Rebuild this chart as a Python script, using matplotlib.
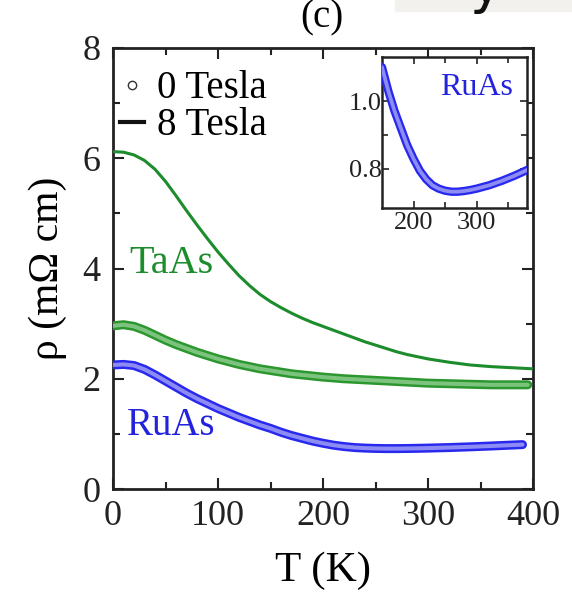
import matplotlib
matplotlib.use("Agg")
import matplotlib.pyplot as plt
import matplotlib.patheffects as pe
from matplotlib.lines import Line2D
from matplotlib.patches import Rectangle
import numpy as np

plt.rcParams['font.family'] = ['Liberation Serif', 'DejaVu Serif']

# TaAs, 8 Tesla (solid line)
T_taas_8T = [0, 10, 20, 30, 40, 50, 60, 70, 80, 90, 100, 110, 120, 130, 140, 150,
             160, 170, 180, 190, 200, 210, 220, 230, 240, 250, 260, 270, 280, 290,
             300, 320, 340, 360, 380, 400]
rho_taas_8T = [6.12, 6.11, 6.06, 5.96, 5.80, 5.58, 5.32, 5.05, 4.79, 4.54, 4.30, 4.08,
               3.87, 3.69, 3.53, 3.40, 3.29, 3.19, 3.10, 3.02, 2.95, 2.88, 2.81, 2.74,
               2.67, 2.61, 2.55, 2.49, 2.44, 2.40, 2.36, 2.30, 2.25, 2.22, 2.20, 2.18]

# TaAs, 0 Tesla (open circles)
T_taas_0T = [0, 10, 20, 30, 40, 50, 60, 70, 80, 90, 100, 110, 120, 130, 140, 150,
             160, 170, 180, 190, 200, 220, 240, 260, 280, 300, 320, 340, 360, 380, 395]
rho_taas_0T = [2.96, 2.98, 2.95, 2.88, 2.79, 2.70, 2.62, 2.55, 2.48, 2.42, 2.36, 2.31,
               2.26, 2.22, 2.18, 2.15, 2.12, 2.09, 2.07, 2.05, 2.03, 2.00, 1.98, 1.96,
               1.94, 1.92, 1.91, 1.90, 1.89, 1.89, 1.89]

# RuAs, 0 Tesla (open circles)
T_ruas_0T = [0, 10, 20, 30, 40, 50, 60, 70, 80, 90, 100, 110, 120, 130, 140, 150,
             160, 170, 180, 190, 200, 210, 220, 230, 240, 250, 260, 270, 280, 290,
             300, 320, 340, 360, 380, 390]
rho_ruas_0T = [2.25, 2.26, 2.24, 2.17, 2.07, 1.96, 1.85, 1.74, 1.64, 1.55, 1.46, 1.38,
               1.30, 1.23, 1.16, 1.10, 1.03, 0.97, 0.92, 0.87, 0.83, 0.795, 0.77, 0.752,
               0.742, 0.736, 0.733, 0.733, 0.735, 0.738, 0.742, 0.752, 0.765, 0.78,
               0.797, 0.805]

x_ticks = [0, 100, 200, 300, 400]
y_ticks = [0, 2, 4, 6, 8]
inset_x_ticks = [200, 300]
inset_y_ticks = [0.8, 1.0]

GREEN = '#1c8c2c'
GREEN_LIGHT = '#7cc47e'
BLUE = '#2828ee'
BLUE_LIGHT = '#8c8cf4'
BLUE_TEXT = '#2323dd'


def circle_band(axis, x, y, color, inner, width=6.0):
    """Dense open-circle trace drawn as an outlined band."""
    line, = axis.plot(x, y, color=inner, lw=width * 0.45, solid_capstyle='round',
                      zorder=3)
    line.set_path_effects([pe.Stroke(linewidth=width, foreground=color),
                           pe.Normal()])
    return line


fig = plt.figure(figsize=(5.72, 5.95), dpi=100)

# faint strip and clipped letter along the top edge
fig.patches.append(Rectangle((395 / 572, 1 - 11 / 595), 1, 11 / 595,
                             transform=fig.transFigure, color='#f3f1ee', zorder=0))
fig.text(486 / 572, 1 - 2 / 595, 'y', fontsize=40, family='DejaVu Sans',
         ha='center', va='baseline', color='#111111')

ax = fig.add_axes([113 / 572, 1 - 489 / 595, 420 / 572, 441 / 595])
ax.set_xlim(0, 400)
ax.set_ylim(0, 8)
ax.set_xticks(x_ticks)
ax.set_yticks(y_ticks)
ax.set_xticks(np.arange(50, 400, 100), minor=True)
ax.set_yticks(np.arange(1, 8, 2), minor=True)
ax.tick_params(which='both', direction='in', top=True, right=True, width=1.5,
               labelsize=26, colors='#222222')
ax.tick_params(which='major', length=8)
ax.tick_params(which='minor', length=5)
ax.tick_params(axis='x', pad=8)
ax.tick_params(axis='y', pad=9)
for s in ax.spines.values():
    s.set_linewidth(2.0)
    s.set_color('#222222')

ax.plot(T_taas_8T, rho_taas_8T, color=GREEN, lw=2.2, zorder=3)
circle_band(ax, T_taas_0T, rho_taas_0T, '#2c962f', GREEN_LIGHT, width=6.5)
circle_band(ax, T_ruas_0T, rho_ruas_0T, BLUE, BLUE_LIGHT, width=6.5)

ax.text(0.04, 0.512, 'TaAs', transform=ax.transAxes, color=GREEN, fontsize=29,
        ha='left', va='center')
ax.text(0.033, 0.145, 'RuAs', transform=ax.transAxes, color=BLUE_TEXT, fontsize=28,
        ha='left', va='center')

ax.set_xlabel('T (K)', fontsize=31, labelpad=13)
ax.set_ylabel('ρ (mΩ cm)', fontsize=30, labelpad=11)
fig.text(322 / 572, 1 - 18 / 595, '(c)', fontsize=28, ha='center', va='center')

handles = [Line2D([], [], marker='o', ms=6, mfc='none', mec='#333333', mew=1.0,
                  ls='none'),
           Line2D([], [], color='#111111', lw=3)]
ax.legend(handles, ['0 Tesla', '8 Tesla'], loc='upper left', frameon=False,
          fontsize=28, handlelength=0.62, handletextpad=0.32, labelspacing=0.0,
          borderaxespad=0.0, bbox_to_anchor=(-0.02, 0.985))

# inset: RuAs minimum
inset = fig.add_axes([382 / 572, 1 - 208 / 595, 145 / 572, 151 / 595])
inset.set_xlim(150, 380)
inset.set_ylim(0.685, 1.13)
inset.set_xticks(inset_x_ticks)
inset.set_yticks(inset_y_ticks)
inset.set_xticks([250, 350], minor=True)
inset.set_yticks([0.9], minor=True)
inset.tick_params(which='both', direction='in', top=True, right=True, width=1.2,
                  labelsize=19, colors='#222222')
inset.tick_params(axis='x', pad=3)
inset.tick_params(axis='y', pad=0)
inset.tick_params(which='major', length=5)
inset.tick_params(which='minor', length=4)
for s in inset.spines.values():
    s.set_linewidth(1.8)
    s.set_color('#222222')
T_in = [t for t in T_ruas_0T if t >= 150]
rho_in = [r for t, r in zip(T_ruas_0T, rho_ruas_0T) if t >= 150]
circle_band(inset, T_in, rho_in, BLUE, BLUE_LIGHT, width=6.0)
inset.text(0.903, 0.795, 'RuAs', transform=inset.transAxes, color=BLUE_TEXT,
           fontsize=23, ha='right', va='center')

fig.savefig('out.png', dpi=100)
